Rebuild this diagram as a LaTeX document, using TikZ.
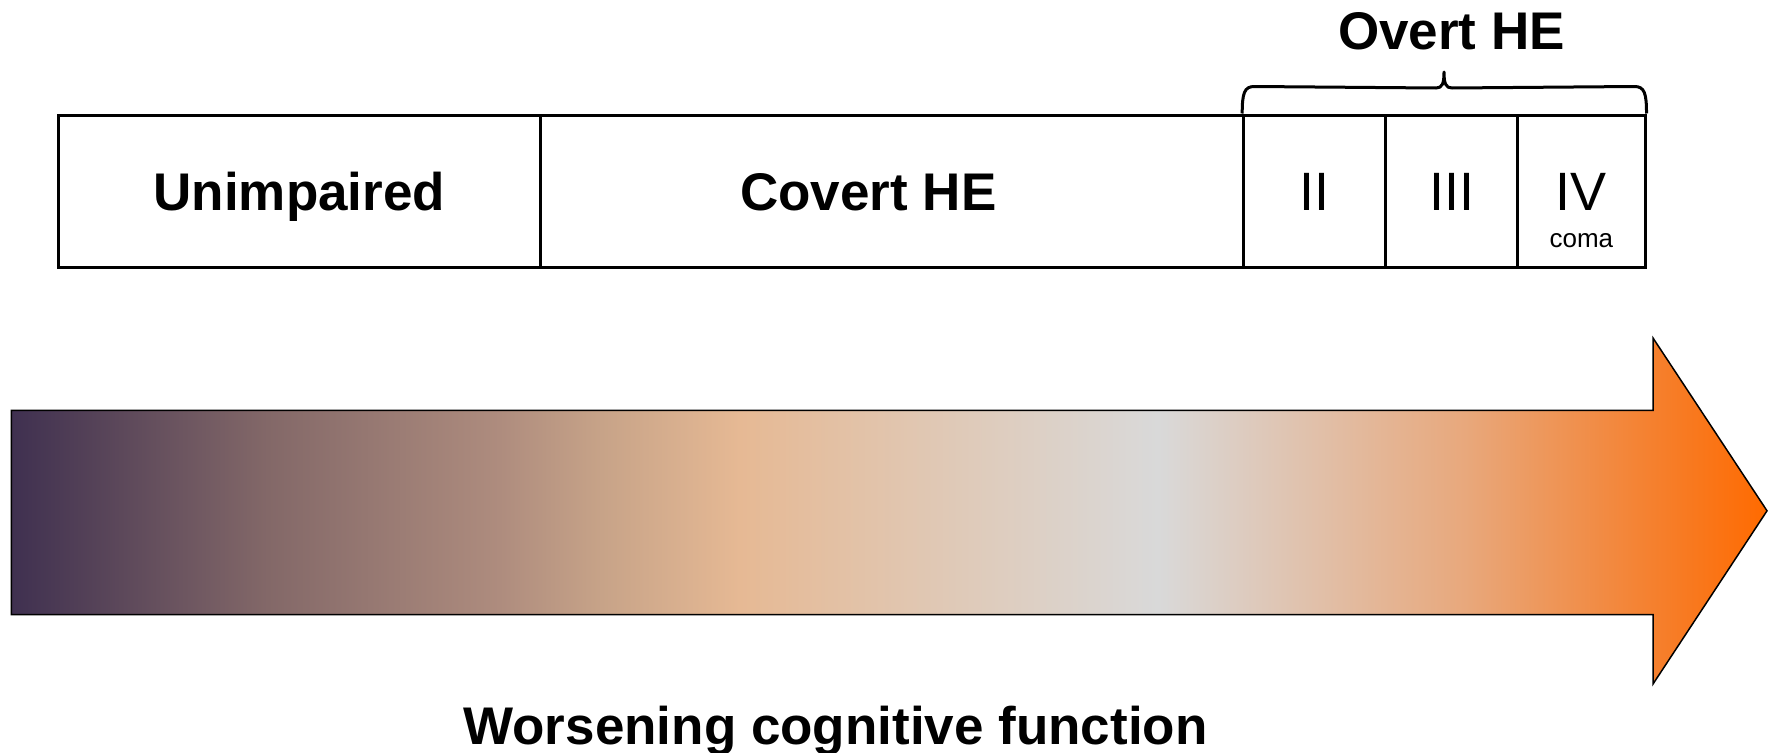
\documentclass[tikz,border=0pt]{standalone}
\usepackage{fontspec}
\setmainfont{Liberation Sans}
\usetikzlibrary{calc}
\definecolor{g0}{HTML}{3F3050}
\definecolor{g1}{HTML}{836868}
\definecolor{g2}{HTML}{AE8C7E}
\definecolor{g2b}{HTML}{C7A388}
\definecolor{g3}{HTML}{E6B994}
\definecolor{g4}{HTML}{D9D9D9}
\definecolor{g5}{HTML}{E8A87C}
\definecolor{g6}{HTML}{F5802E}
\definecolor{g7}{HTML}{FF6A00}
\pgfdeclarehorizontalshading{cogshade}{100bp}{color(0bp)=(g0); color(25bp)=(g0); color(32.3bp)=(g1); color(38.9bp)=(g2); color(41.8bp)=(g2b); color(45.75bp)=(g3); color(57.65bp)=(g4); color(66.4bp)=(g5); color(71.75bp)=(g6); color(75bp)=(g7); color(100bp)=(g7)}
\begin{document}
\begin{tikzpicture}[x=1pt,y=-1pt,
  stagebox/.style={draw=black, line width=3pt, fill=white, rectangle, minimum height=152pt, inner sep=0pt, text height=38pt, text depth=0pt},
  boldlabel/.style={font=\fontsize{53}{60}\selectfont\bfseries},
  romanlabel/.style={font=\fontsize{54}{60}\selectfont},
  smalllabel/.style={font=\fontsize{26}{30}\selectfont, inner sep=0pt},
  bracestyle/.style={draw=black, line width=3pt, line join=round},
  arrowstyle/.style={draw=black, line width=1.5pt, shading=cogshade}]
\useasboundingbox (0,0) rectangle (1768,752);
% boxes
\node[stagebox, boldlabel, minimum width=750.7pt] (covert) at (868.35,191) {Covert HE};
\node[stagebox, boldlabel, minimum width=481.4pt] (unimp) at (299.3,191) {Unimpaired};
\node[stagebox, romanlabel, minimum width=142.1pt] (two) at (1314.75,191) {II};
\node[stagebox, romanlabel, minimum width=131.9pt] (three) at (1451.75,191) {III};
\node[stagebox, romanlabel, minimum width=127.3pt] (four) at (1581.35,191) {IV};
\node[smalllabel, anchor=base] (coma) at (1581.35,247) {coma};
% brace
\coordinate (bl) at (two.north west);
\coordinate (br) at (four.north east);
\coordinate (btip) at (1444,72);
\draw[bracestyle] (bl) .. controls ($(bl)+(0,-20)$) and ($(bl)+(2,-27)$) .. ($(bl)+(12,-27)$)
  -- ($(btip)+(-8,16)$) .. controls ($(btip)+(-2,16)$) and ($(btip)+(0,12)$) .. (btip)
  .. controls ($(btip)+(0,12)$) and ($(btip)+(2,16)$) .. ($(btip)+(8,16)$)
  -- ($(br)+(-12,-27)$) .. controls ($(br)+(-2,-27)$) and ($(br)+(0,-20)$) .. (br);
\node[boldlabel, anchor=base] (overt) at (1451.5,50) {Overt HE};
% arrow
\path[arrowstyle] (11.3,410.4) -- (1653,410.4) -- (1653,338) -- (1767,510.8) -- (1653,684) -- (1653,614.5) -- (11.3,614.5) -- cycle;
\node[boldlabel, anchor=base] (worse) at (835.5,744) {Worsening cognitive function};
\end{tikzpicture}
\end{document}
